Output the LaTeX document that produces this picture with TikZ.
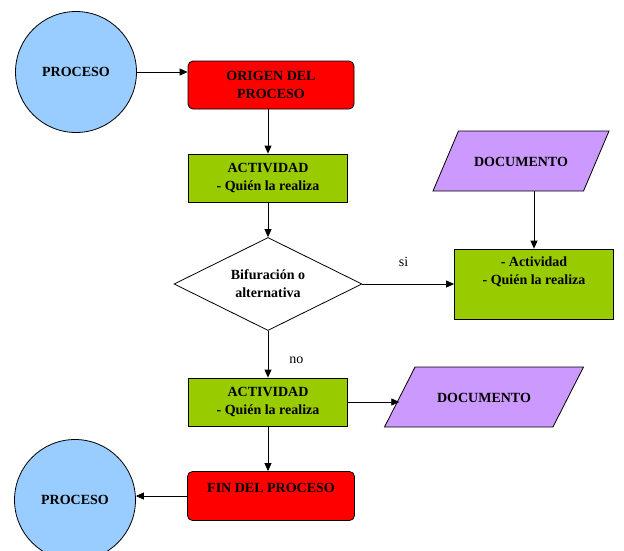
\documentclass[tikz,border=0pt]{standalone}
\usepackage{fontspec}
\setmainfont{Liberation Serif}
\usetikzlibrary{shapes,arrows,arrows.meta,fit,positioning}
\definecolor{procblue}{HTML}{99CCFF}
\definecolor{actgreen}{HTML}{99CC00}
\definecolor{docpurple}{HTML}{CC99FF}

\begin{document}
\begin{tikzpicture}[x=1pt,y=-1pt,
  font=\bfseries\fontsize{14}{18}\selectfont,
  every node/.style={draw,line width=0.8pt,align=center,inner sep=0pt},
  proc/.style={circle,fill=procblue,minimum size=121pt},
  limite/.style={rectangle,rounded corners=5pt,fill=red,minimum width=166pt,minimum height=48pt},
  actividad/.style={rectangle,fill=actgreen,minimum width=159pt,minimum height=48pt},
  decision/.style={diamond,aspect=2,fill=white,minimum width=188pt,minimum height=93pt},
  documento/.style={trapezium,trapezium stretches body,fill=docpurple,
    text height=10pt,text depth=0pt,inner ysep=25pt,minimum height=60pt},
  rama/.style={draw=none,font=\fontsize{14}{16}\selectfont},
  flecha/.style={-{Triangle[length=8pt,width=7pt]},line width=0.8pt}]
\clip (0,0) rectangle (624,550);
\useasboundingbox (0,0) rectangle (624,550);

\node[proc] (inicio) at (76,72) {PROCESO};
\node[limite] (origen) at (271,85) {ORIGEN DEL\\ PROCESO};
\node[actividad] (act1) at (268,178) {ACTIVIDAD\\ -\ Quién la realiza};
\node[decision] (bif) at (268,284) {Bifuración o\\ alternativa};
\node[documento,trapezium left angle=67,trapezium right angle=113,minimum width=176pt] (doc1) at (521,161) {DOCUMENTO};
\node[actividad,minimum height=70pt,
  label={[draw=none,align=center,yshift=12pt]center:- Actividad\\ - Quién la realiza}] (act3) at (534,284) {};
\node[actividad] (act2) at (268,402) {ACTIVIDAD\\ -\ Quién la realiza};
\node[documento,trapezium left angle=63,trapezium right angle=117,minimum width=199pt] (doc2) at (484,397) {DOCUMENTO};
\node[limite,minimum width=167pt,minimum height=49pt,
  label={[draw=none,yshift=8pt]center:FIN DEL PROCESO}] (fin) at (271,496) {};
\node[proc] (final) at (75,500) {PROCESO};

% conexiones
\draw[flecha] (inicio.east) -- (inicio.east -| origen.west);
\draw[flecha] (act1.north |- origen.south) -- (act1.north);
\draw[flecha] (act1.south) -- (bif.north);
\draw[flecha] (bif.east) -- (act3.west) node[rama,pos=0.45,above=17pt] {si};
\draw[flecha] (act3.north |- doc1.south) -- (act3.north);
\draw[flecha] (bif.south) -- (act2.north) node[rama,pos=0.62,right=21pt] {no};
\draw[flecha] (act2.east) -- (act2.east -| doc2.west);
\draw[flecha] (act2.south) -- (act2.south |- fin.north);
\draw[flecha] (fin.west) -- (fin.west -| final.east);
\end{tikzpicture}
\end{document}
